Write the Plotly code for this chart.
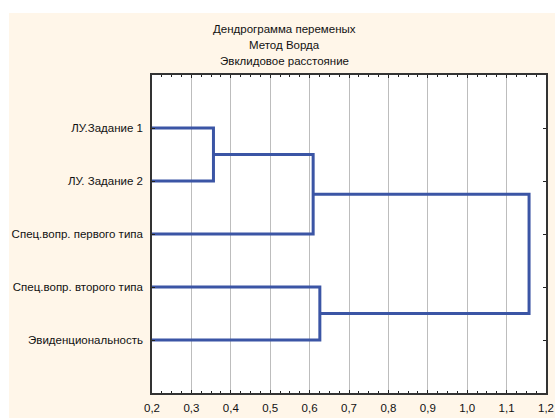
import plotly.graph_objects as go

# Leaves, top to bottom
leaves = ["ЛУ.Задание 1", "ЛУ. Задание 2", "Спец.вопр. первого типа",
          "Спец.вопр. второго типа", "Эвиденциональность"]

# Ward linkage: (left node, right node, linkage distance)
# nodes 0..4 are leaves, 5.. are clusters created in order
merge_left = [0, 5, 3, 6]
merge_right = [1, 2, 4, 7]
merge_dist = [0.356, 0.609, 0.626, 1.157]

x_ticks = [0.2, 0.3, 0.4, 0.5, 0.6, 0.7, 0.8, 0.9, 1.0, 1.1, 1.2]
x_base = 0.2

BLUE = "#3B55A5"
CREAM = "#FFF6E9"
FS = 11.5

# position (y) and height (x) for every node
node_y = {i: i + 1 for i in range(len(leaves))}
node_x = {i: x_base for i in range(len(leaves))}

xs, ys = [], []
for k, (a, b, d) in enumerate(zip(merge_left, merge_right, merge_dist)):
    nid = len(leaves) + k
    xs += [node_x[a], d, d, node_x[b], None]
    ys += [node_y[a], node_y[a], node_y[b], node_y[b], None]
    node_x[nid] = d
    node_y[nid] = (node_y[a] + node_y[b]) / 2

fig = go.Figure()
fig.add_trace(go.Scatter(x=xs, y=ys, mode="lines",
                         line=dict(color=BLUE, width=3), showlegend=False,
                         hoverinfo="skip"))

W, H = 555, 418
L, R, T, B = 152, 9, 75, 25

fig.update_layout(
    width=W, height=H,
    margin=dict(l=L, r=R, t=T, b=B, pad=0),
    paper_bgcolor=CREAM, plot_bgcolor="white",
    separators=", ",
    font=dict(family="Liberation Sans, Arial, sans-serif", size=FS, color="#111"),
    showlegend=False,
)

fig.update_xaxes(
    range=[x_ticks[0], x_ticks[-1]], tickvals=x_ticks, tickformat=".1f",
    automargin=False,
    showgrid=True, gridcolor="#BDBDBD", gridwidth=1,
    zeroline=False, showline=True, linecolor="#333", linewidth=1.5,
    mirror="ticks", ticks="inside", ticklen=3, tickcolor="#222",
    minor=dict(dtick=0.025, ticks="inside", ticklen=2, tickcolor="#222", showgrid=False),
    tickfont=dict(size=FS, color="#111"), ticklabelstandoff=3,
)
fig.update_yaxes(
    range=[len(leaves) + 1, 0], tickvals=list(range(1, len(leaves) + 1)),
    automargin=False,
    ticktext=leaves, showgrid=False, zeroline=False,
    showline=True, linecolor="#333", linewidth=1.5,
    mirror="ticks", ticks="inside", ticklen=3, tickcolor="#222",
    tickfont=dict(size=FS, color="#111"), ticklabelstandoff=5,
)

# white strips along the top and left edges of the page
fig.add_shape(type="rect", xref="paper", yref="paper",
              x0=-L / (W - L - R), x1=1 + R / (W - L - R),
              y0=1 + (T - 13) / (H - T - B), y1=1 + T / (H - T - B),
              fillcolor="white", line_width=0, layer="below")
fig.add_shape(type="rect", xref="paper", yref="paper",
              x0=-L / (W - L - R), x1=-(L - 9) / (W - L - R),
              y0=-B / (H - T - B), y1=1 + T / (H - T - B),
              fillcolor="white", line_width=0, layer="below")

titles = ["Дендрограмма переменых", "Метод Ворда", "Эвклидовое расстояние"]
title_y = [28.5, 45, 60.5]
for txt, yp in zip(titles, title_y):
    fig.add_annotation(text=txt, xref="paper", yref="paper",
                       x=(284 - L) / (W - L - R), y=1 + (T - yp) / (H - T - B),
                       showarrow=False, xanchor="center", yanchor="middle",
                       font=dict(size=FS, color="#111"))

fig.write_html("out.html")
